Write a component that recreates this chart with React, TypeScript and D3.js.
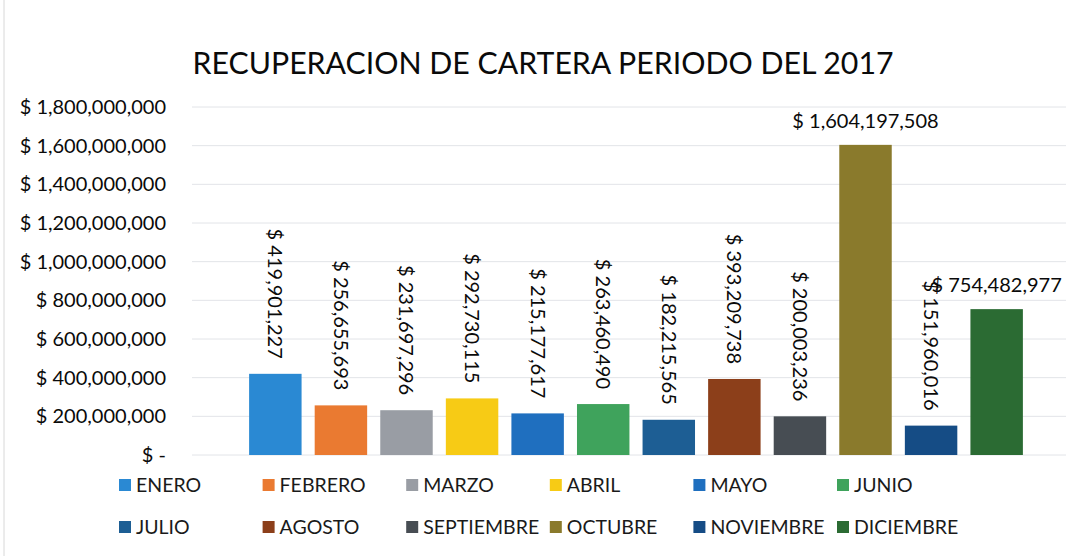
import React from 'react';
import * as d3 from 'd3';

const meses = ['ENERO', 'FEBRERO', 'MARZO', 'ABRIL', 'MAYO', 'JUNIO', 'JULIO', 'AGOSTO', 'SEPTIEMBRE', 'OCTUBRE', 'NOVIEMBRE', 'DICIEMBRE'];
const recaudo = [419901227, 256655693, 231697296, 292730115, 215177617, 263460490, 182215565, 393209738, 200003236, 1604197508, 151960016, 754482977];
const colores = ['#2a89d3', '#ea7a31', '#999da4', '#f7cb15', '#1f6fbf', '#3fa35c', '#1d5e94', '#8c3f1a', '#474d53', '#8a7a2c', '#154c85', '#2b6b33'];
// labels that Excel laid flat instead of rotated
const etiquetaHorizontal = ['OCTUBRE', 'DICIEMBRE'];
const ticksY = [0, 200000000, 400000000, 600000000, 800000000, 1000000000, 1200000000, 1400000000, 1600000000, 1800000000];

const W = 1066;
const H = 556;
const fuente = 'Lato, "Open Sans", sans-serif';

export default function App() {
  const x = d3.scaleBand<string>().domain(meses).range([236, 1036]).paddingInner(0.2).paddingOuter(0.2);
  const y = d3.scaleLinear().domain([0, 1800000000]).range([455, 107]);
  const fmt = d3.format(',');
  const moneda = (v: number) => (v === 0 ? '$ -' : '$ ' + fmt(v));

  return (
    <svg width={W} height={H} style={{ position: 'absolute', left: 0, top: 0, background: '#fff' }} fontFamily={fuente}>
      <line x1={4} x2={4} y1={0} y2={H} stroke="#d8d8d8" />

      <text x={543} y={74} textAnchor="middle" fontSize={31} fill="#0a0a0a" textLength={701} lengthAdjust="spacingAndGlyphs">
        RECUPERACION DE CARTERA PERIODO DEL 2017
      </text>

      {ticksY.map(t => (
        <g key={t}>
          <line x1={192} x2={W} y1={y(t)} y2={y(t)} stroke="#e2e4e8" strokeWidth={1} />
          <text x={166} y={y(t)} dy="0.35em" textAnchor="end" fontSize={20} fill="#0a0a0a">
            {moneda(t)}
          </text>
        </g>
      ))}

      {meses.map((m, i) => {
        const x0 = x(m) as number;
        const cx = x0 + x.bandwidth() / 2;
        const top = y(recaudo[i]);
        return (
          <g key={m}>
            <rect x={x0} y={top} width={x.bandwidth()} height={y(0) - top} fill={colores[i]} />
            {etiquetaHorizontal.includes(m) ? (
              <text x={cx} y={top - 17} textAnchor="middle" fontSize={20} fill="#0a0a0a">
                {moneda(recaudo[i])}
              </text>
            ) : (
              <text
                transform={`translate(${cx},${top - 15}) rotate(90)`}
                textAnchor="end"
                dy="0.35em"
                fontSize={20}
                fill="#0a0a0a"
              >
                {moneda(recaudo[i])}
              </text>
            )}
          </g>
        );
      })}

      {meses.map((m, i) => {
        const lx = 119 + (i % 6) * 143.6;
        const ly = 485 + Math.floor(i / 6) * 42;
        return (
          <g key={'ley' + m}>
            <rect x={lx} y={ly - 6} width={12} height={12} fill={colores[i]} />
            <text x={lx + 17} y={ly} dy="0.35em" fontSize={19.5} fill="#1a1a1a">
              {m}
            </text>
          </g>
        );
      })}
    </svg>
  );
}
